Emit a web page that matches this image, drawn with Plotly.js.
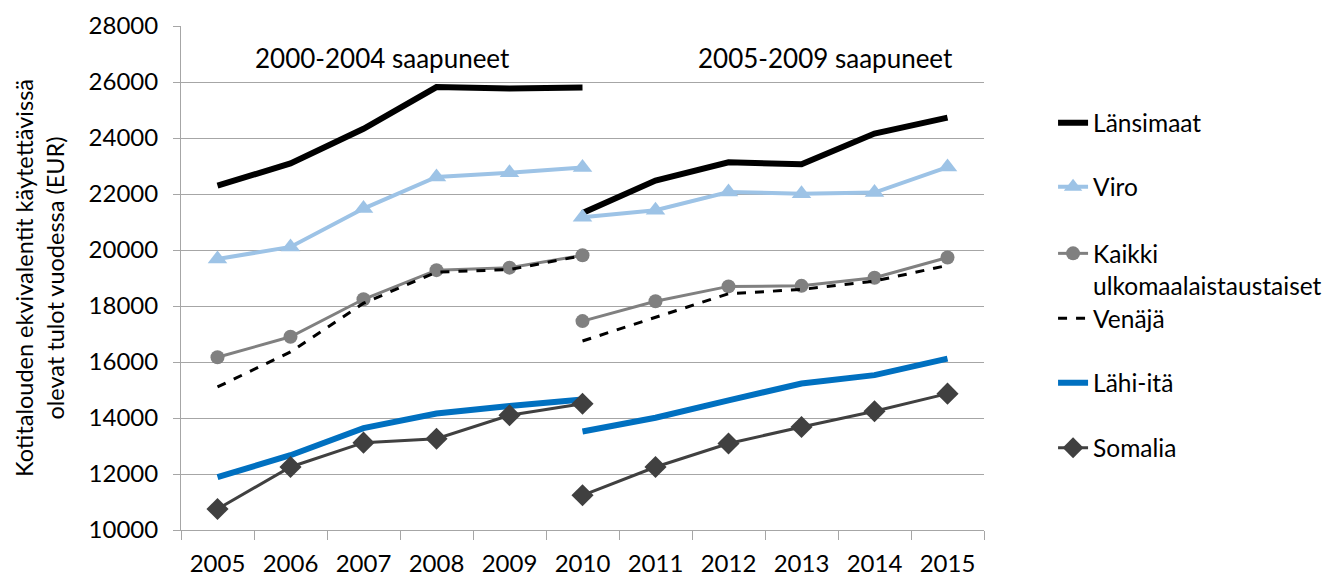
<!DOCTYPE html>
<html>
<head>
<meta charset="utf-8">
<script src="https://cdn.plot.ly/plotly-3.0.1.min.js"></script>
<style>html,body{margin:0;padding:0;background:#fff;}#chart{width:1330px;height:576px;}</style>
</head>
<body>
<div id="chart"></div>
<script>
// Categories
const categories = ['2005','2006','2007','2008','2009','2010','2011','2012','2013','2014','2015'];
const years1 = ['2005','2006','2007','2008','2009','2010']; // 2000-2004 saapuneet
const years2 = ['2010','2011','2012','2013','2014','2015']; // 2005-2009 saapuneet

// Series values (EUR)
const lansimaat1 = [22300, 23090, 24330, 25820, 25770, 25800];
const lansimaat2 = [21320, 22480, 23130, 23060, 24160, 24730];
const viro1 = [19680, 20110, 21480, 22610, 22760, 22950];
const viro2 = [21170, 21420, 22070, 22010, 22050, 22960];
const kaikki1 = [16170, 16900, 18240, 19280, 19370, 19810];
const kaikki2 = [17460, 18170, 18700, 18720, 19010, 19730];
const venaja1 = [15110, 16360, 18100, 19210, 19300, 19800];
const venaja2 = [16750, 17600, 18440, 18590, 18890, 19450];
const lahiita1 = [11890, 12670, 13640, 14160, 14430, 14660];
const lahiita2 = [13520, 14010, 14630, 15230, 15530, 16120];
const somalia1 = [10750, 12250, 13120, 13260, 14100, 14510];
const somalia2 = [11240, 12250, 13090, 13680, 14240, 14870];

// Labels
const seriesNames = ['Länsimaat', 'Viro', 'Kaikki<br>ulkomaalaistaustaiset', 'Venäjä', 'Lähi-itä', 'Somalia'];
const groupLabels = ['2000-2004 saapuneet', '2005-2009 saapuneet'];
const yTitle = 'Kotitalouden ekvivalentit käytettävissä<br>olevat tulot vuodessa (EUR)';
const yTicks = [10000, 12000, 14000, 16000, 18000, 20000, 22000, 24000, 26000, 28000];

const FONT = 'Lato, "Open Sans", sans-serif';

const styles = [
  {line: {color: '#000000', width: 6}, mode: 'lines'},
  {line: {color: '#9DC3E6', width: 4}, mode: 'lines+markers', marker: {symbol: 'triangle-up', size: 17, color: '#9DC3E6'}},
  {line: {color: '#808080', width: 3}, mode: 'lines+markers', marker: {symbol: 'circle', size: 14, color: '#808080'}},
  {line: {color: '#000000', width: 3, dash: 'dash'}, mode: 'lines'},
  {line: {color: '#0070C0', width: 6}, mode: 'lines'},
  {line: {color: '#404040', width: 3}, mode: 'lines+markers', marker: {symbol: 'diamond', size: 17, color: '#404040'}}
];
const data1 = [lansimaat1, viro1, kaikki1, venaja1, lahiita1, somalia1];
const data2 = [lansimaat2, viro2, kaikki2, venaja2, lahiita2, somalia2];
const legendIds = ['legend', 'legend2', 'legend3', 'legend4', 'legend5', 'legend6'];
const legendY = [0.808, 0.681, 0.517, 0.420, 0.292, 0.163];

const traces = [];
for (let i = 0; i < seriesNames.length; i++) {
  const base = Object.assign({type: 'scatter', name: seriesNames[i], legendgroup: 'g' + i, legend: legendIds[i], hoverinfo: 'x+y'}, styles[i]);
  traces.push(Object.assign({}, base, {x: years1, y: data1[i], showlegend: true}));
  traces.push(Object.assign({}, base, {x: years2, y: data2[i], showlegend: false}));
}

const layout = {
  width: 1330, height: 576,
  margin: {l: 181, r: 346, t: 26, b: 46, pad: 0, autoexpand: false},
  paper_bgcolor: '#ffffff', plot_bgcolor: '#ffffff',
  font: {family: FONT, size: 24, color: '#000000'},
  xaxis: {
    type: 'category', categoryorder: 'array', categoryarray: categories,
    range: [-0.5, 10.5],
    tickson: 'boundaries', ticks: 'outside', ticklen: 9, tickcolor: '#A6A6A6', tickwidth: 1,
    showline: true, linecolor: '#A6A6A6', linewidth: 1,
    showgrid: false, zeroline: false,
    tickfont: {family: FONT, size: 24, color: '#000'},
    ticklabelstandoff: 12
  },
  yaxis: {
    range: [10000, 28000], tickvals: yTicks, ticktext: yTicks.map(String),
    ticks: 'outside', ticklen: 7, tickcolor: '#A6A6A6',
    showline: true, linecolor: '#A6A6A6', linewidth: 1,
    showgrid: true, gridcolor: '#A6A6A6', gridwidth: 1, zeroline: false,
    tickfont: {family: FONT, size: 24, color: '#000'},
    ticklabelstandoff: 10,
    title: {text: yTitle, font: {family: FONT, size: 23.5, color: '#000'}, standoff: 17}
  },
  annotations: [
    {xref: 'paper', yref: 'paper', x: 0.251, y: 0.936, text: groupLabels[0], showarrow: false, xanchor: 'center', yanchor: 'middle', font: {family: FONT, size: 26, color: '#000'}},
    {xref: 'paper', yref: 'paper', x: 0.803, y: 0.936, text: groupLabels[1], showarrow: false, xanchor: 'center', yanchor: 'middle', font: {family: FONT, size: 26, color: '#000'}}
  ],
  showlegend: true
};
for (let i = 0; i < legendIds.length; i++) {
  layout[legendIds[i]] = {
    x: 1.086, xanchor: 'left', y: legendY[i], yanchor: 'middle',
    bgcolor: 'rgba(0,0,0,0)', borderwidth: 0, valign: 'top',
    font: {family: FONT, size: 24.5, color: '#000'}
  };
}

Plotly.newPlot('chart', traces, layout, {displayModeBar: false, staticPlot: true});
</script>
</body>
</html>
